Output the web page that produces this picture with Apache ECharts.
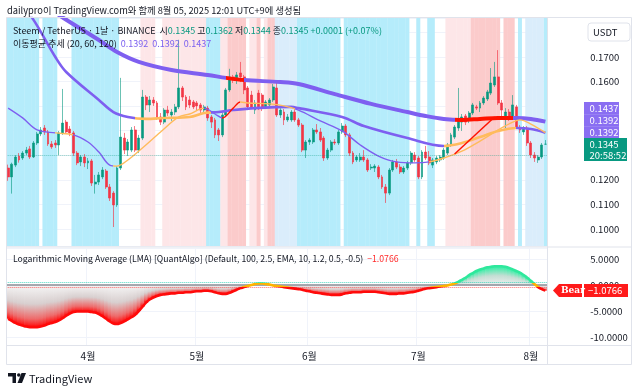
<!DOCTYPE html>
<html><head><meta charset="utf-8">
<script src="https://cdn.jsdelivr.net/npm/echarts@6/dist/echarts.min.js"></script>
<style>html,body{margin:0;padding:0;background:#fff}#c{width:640px;height:390px}</style>
</head><body><div id="c"></div>
<script>
// ---------------- DATA ----------------
const startDate = [2025, 2, 10]; // 2025-03-10, first daily candle
const opens = [0.1248,0.1212,0.1260,0.1297,0.1289,0.1309,0.1326,0.1293,0.1350,0.1387,
0.1411,0.1395,0.1346,0.1350,0.1342,0.1391,0.1435,0.1407,0.1391,0.1309,
0.1273,0.1293,0.1269,0.1277,0.1183,0.1191,0.1212,0.1236,0.1171,0.1146,
0.1098,0.1248,0.1370,0.1321,0.1321,0.1403,0.1321,0.1370,0.1537,0.1505,
0.1525,0.1513,0.1456,0.1435,0.1484,0.1464,0.1476,0.1497,0.1574,0.1537,
0.1525,0.1517,0.1513,0.1505,0.1484,0.1492,0.1456,0.1444,0.1403,0.1383,
0.1464,0.1566,0.1619,0.1606,0.1635,0.1619,0.1574,0.1545,0.1484,0.1553,
0.1545,0.1497,0.1505,0.1525,0.1574,0.1464,0.1476,0.1444,0.1444,0.1476,
0.1444,0.1423,0.1321,0.1354,0.1354,0.1403,0.1395,0.1370,0.1289,0.1321,
0.1354,0.1350,0.1395,0.1419,0.1383,0.1309,0.1281,0.1281,0.1293,0.1281,
0.1248,0.1248,0.1252,0.1212,0.1171,0.1146,0.1240,0.1273,0.1252,0.1232,
0.1248,0.1269,0.1301,0.1289,0.1212,0.1313,0.1293,0.1260,0.1273,0.1281,
0.1289,0.1309,0.1342,0.1374,0.1411,0.1435,0.1460,0.1444,0.1472,0.1497,
0.1492,0.1513,0.1529,0.1553,0.1586,0.1619,0.1513,0.1452,0.1476,0.1456,
0.1497,0.1415,0.1395,0.1411,0.1350,0.1301,0.1281,0.1293,0.1345];
const closes = [0.1212,0.1264,0.1293,0.1281,0.1309,0.1321,0.1293,0.1350,0.1387,0.1403,
0.1395,0.1346,0.1334,0.1342,0.1391,0.1431,0.1395,0.1391,0.1309,0.1269,
0.1293,0.1269,0.1277,0.1187,0.1191,0.1220,0.1240,0.1171,0.1126,0.1098,
0.1248,0.1374,0.1321,0.1354,0.1403,0.1321,0.1370,0.1537,0.1505,0.1525,
0.1513,0.1456,0.1435,0.1484,0.1472,0.1476,0.1497,0.1574,0.1537,0.1497,
0.1505,0.1497,0.1501,0.1484,0.1497,0.1452,0.1435,0.1383,0.1383,0.1464,
0.1566,0.1619,0.1606,0.1627,0.1619,0.1566,0.1497,0.1497,0.1513,0.1497,
0.1497,0.1517,0.1525,0.1578,0.1464,0.1484,0.1444,0.1456,0.1476,0.1444,
0.1423,0.1321,0.1354,0.1362,0.1403,0.1395,0.1362,0.1289,0.1321,0.1354,
0.1350,0.1395,0.1419,0.1383,0.1309,0.1273,0.1293,0.1293,0.1281,0.1240,
0.1252,0.1256,0.1212,0.1171,0.1146,0.1240,0.1273,0.1252,0.1232,0.1248,
0.1269,0.1309,0.1281,0.1212,0.1313,0.1289,0.1269,0.1281,0.1289,0.1293,
0.1321,0.1342,0.1383,0.1415,0.1444,0.1456,0.1435,0.1472,0.1505,0.1492,
0.1513,0.1533,0.1558,0.1594,0.1619,0.1513,0.1484,0.1476,0.1452,0.1505,
0.1415,0.1403,0.1411,0.1350,0.1301,0.1289,0.1293,0.1342,0.1345];
const highs = [0.1262,0.1270,0.1301,0.1309,0.1317,0.1334,0.1338,0.1358,0.1395,0.1415,
0.1423,0.1403,0.1358,0.1362,0.1399,0.1570,0.1444,0.1419,0.1399,0.1317,
0.1301,0.1305,0.1289,0.1285,0.1220,0.1232,0.1252,0.1244,0.1183,0.1154,
0.1256,0.1615,0.1391,0.1366,0.1415,0.1419,0.1383,0.1566,0.1545,0.1541,
0.1537,0.1521,0.1472,0.1492,0.1501,0.1488,0.1509,0.1770,0.1582,0.1545,
0.1541,0.1525,0.1521,0.1513,0.1505,0.1501,0.1464,0.1452,0.1411,0.1472,
0.1574,0.1652,0.1627,0.1639,0.1680,0.1627,0.1582,0.1562,0.1525,0.1566,
0.1553,0.1525,0.1533,0.1590,0.1606,0.1492,0.1488,0.1468,0.1484,0.1488,
0.1452,0.1431,0.1362,0.1370,0.1411,0.1427,0.1411,0.1378,0.1330,0.1362,
0.1366,0.1403,0.1431,0.1427,0.1391,0.1317,0.1301,0.1309,0.1321,0.1289,
0.1264,0.1264,0.1260,0.1220,0.1183,0.1248,0.1281,0.1285,0.1264,0.1256,
0.1277,0.1317,0.1313,0.1297,0.1321,0.1338,0.1317,0.1289,0.1297,0.1301,
0.1330,0.1350,0.1391,0.1423,0.1574,0.1468,0.1468,0.1480,0.1513,0.1505,
0.1521,0.1541,0.1566,0.1655,0.1680,0.1728,0.1525,0.1492,0.1488,0.1545,
0.1505,0.1423,0.1419,0.1419,0.1358,0.1313,0.1301,0.1350,0.1362];
const lows = [0.1196,0.1144,0.1252,0.1270,0.1281,0.1301,0.1285,0.1289,0.1342,0.1378,
0.1383,0.1338,0.1326,0.1330,0.1301,0.1383,0.1387,0.1378,0.1297,0.1260,
0.1256,0.1252,0.1244,0.1175,0.1144,0.1179,0.1203,0.1163,0.1114,0.1008,
0.1090,0.1240,0.1305,0.1297,0.1313,0.1313,0.1309,0.1362,0.1484,0.1476,
0.1501,0.1444,0.1423,0.1427,0.1460,0.1440,0.1464,0.1488,0.1521,0.1484,
0.1492,0.1488,0.1480,0.1472,0.1476,0.1440,0.1411,0.1370,0.1358,0.1374,
0.1456,0.1558,0.1594,0.1590,0.1598,0.1549,0.1484,0.1488,0.1468,0.1484,
0.1480,0.1488,0.1492,0.1517,0.1456,0.1452,0.1423,0.1436,0.1436,0.1436,
0.1415,0.1313,0.1289,0.1342,0.1346,0.1387,0.1354,0.1277,0.1281,0.1313,
0.1342,0.1342,0.1387,0.1374,0.1297,0.1264,0.1273,0.1273,0.1273,0.1232,
0.1240,0.1232,0.1203,0.1163,0.1106,0.1138,0.1232,0.1244,0.1224,0.1224,
0.1240,0.1260,0.1273,0.1203,0.1203,0.1281,0.1260,0.1248,0.1264,0.1273,
0.1281,0.1301,0.1334,0.1366,0.1399,0.1399,0.1423,0.1431,0.1464,0.1484,
0.1476,0.1505,0.1521,0.1545,0.1578,0.1505,0.1452,0.1411,0.1440,0.1448,
0.1407,0.1391,0.1383,0.1338,0.1289,0.1273,0.1269,0.1285,0.1344];

// Moving-average trend lines: [day index, price]
const ma120Points = [[0,0.2013],[14,0.1871],[25,0.1769],[30,0.1720],[36,0.1680],[45,0.1647],[55,0.1627],[60,0.1615],[65,0.1606],[75,0.1598],[80,0.1590],[90,0.1549],[100,0.1509],[110,0.1476],[115,0.1460],[120,0.1448],[125,0.1444],[130,0.1448],[135,0.1452],[140,0.1452],[144,0.1448],[148,0.1437]];
const ma60Points = [[0,0.1993],[7,0.1851],[13,0.1700],[16,0.1639],[25,0.1525],[29,0.1476],[33,0.1456],[38,0.1448],[43,0.1452],[50,0.1456],[54,0.1472],[58,0.1476],[62,0.1484],[68,0.1492],[78,0.1497],[80,0.1492],[92,0.1456],[98,0.1419],[110,0.1370],[120,0.1338],[125,0.1350],[130,0.1374],[135,0.1399],[140,0.1411],[144,0.1407],[148,0.1392]];
const ma20Points = [[0,0.1492],[4,0.1452],[8,0.1403],[13,0.1391],[18,0.1383],[22,0.1354],[25,0.1313],[28,0.1260],[30,0.1256],[33,0.1281],[37,0.1330],[42,0.1395],[47,0.1456],[50,0.1468],[54,0.1492],[57,0.1468],[59,0.1452],[62,0.1492],[64,0.1517],[66,0.1513],[72,0.1509],[76,0.1501],[80,0.1484],[86,0.1440],[92,0.1399],[97,0.1342],[102,0.1297],[107,0.1273],[112,0.1269],[116,0.1273],[120,0.1289],[125,0.1317],[130,0.1358],[135,0.1403],[139,0.1435],[141,0.1444],[144,0.1427],[148,0.1392]];
const crossPoints = [[123,0.1305],[134,0.1456]];
// trend-state segments (day ranges)
const ma120Red = [[60,65],[123,139]];
const ma60Orange = [[35,56],[120,140]];
const ma20Orange = [[13,18],[29,54],[64,79],[116,149]];
const ma20Red = [[59,64]];

// background regime bands: [state, number of days]
const bandRuns = [['C',9],['W',1],['C',4],['W',4],['C',13],['W',6],['L',4],['W',2],['L',12],['C',4],['L',2],['P',5],['W',1],['L',2],['P',1],['W',1],['L',1],['P',2],['B',6],['C',12],['W',1],['C',18],['W',2],['C',1],['W',2],['C',2],['W',3],['L',7],['P',8],['W',1],['P',3],['W',1],['C',1],['W',1],['B',5],['C',1]];

// Logarithmic Moving Average oscillator
const lmaValues = [-6.5,-6.9,-7.3,-7.6,-7.8,-8.0,-8.1,-8.1,-8.1,-8.0,
-7.8,-7.5,-7.3,-7.1,-6.8,-6.4,-5.9,-5.5,-5.2,-5.1,
-5.1,-5.1,-5.1,-5.2,-5.3,-5.6,-6.0,-6.5,-7.0,-7.4,
-7.5,-7.3,-7.0,-6.6,-6.2,-5.7,-5.0,-4.2,-3.4,-2.8,
-2.4,-2.1,-1.9,-1.8,-1.7,-1.6,-1.6,-1.5,-1.5,-1.4,
-1.4,-1.3,-1.2,-1.2,-1.1,-1.1,-1.2,-1.4,-1.6,-1.7,
-1.7,-1.5,-1.2,-0.9,-0.6,-0.4,-0.2,0.0,0.2,0.3,
0.3,0.2,0.1,-0.1,-0.2,-0.3,-0.4,-0.5,-0.6,-0.7,
-0.8,-0.9,-1.1,-1.2,-1.4,-1.5,-1.6,-1.7,-1.8,-1.9,
-1.9,-1.9,-1.8,-1.6,-1.5,-1.4,-1.4,-1.4,-1.3,-1.3,
-1.3,-1.3,-1.4,-1.5,-1.6,-1.7,-1.7,-1.7,-1.6,-1.6,
-1.5,-1.4,-1.3,-1.1,-0.9,-0.7,-0.6,-0.5,-0.4,-0.3,
-0.2,-0.1,0.1,0.3,0.6,1.0,1.4,1.9,2.3,2.7,
3.0,3.2,3.4,3.5,3.6,3.6,3.6,3.5,3.3,3.0,
2.7,2.4,1.9,1.4,0.8,0.2,-0.4,-0.8,-1.0766];

const monthTicks = ['2025-04-01','2025-05-01','2025-06-01','2025-07-01','2025-08-01'];
const monthNames = ['4월','5월','6월','7월','8월'];
const priceTickStep = 0.01;
const lmaTickStep = 5;

// ---------------- STYLE / LAYOUT ----------------
const FONT = '"Noto Sans CJK KR", "Noto Sans", sans-serif';
const UP = '#089981', DOWN = '#f23645';
const PURPLE = '#7e5ff0', ORANGE = '#ffbb5c', RED = '#ff1200';
const bandColors = {C:'#b5ecfb', L:'#fde6e8', P:'#fbcbcb', B:'#daedfb'};
const priceMin = 0.09308, priceMax = 0.18587;
const lmaMin = -11.54, lmaMax = 7.12;
const gridLeft = 6.3, gridWidth = 540.9;

const dates = [];
for (let i = 0; i < opens.length; i++) {
  const d = new Date(Date.UTC(startDate[0], startDate[1], startDate[2] + i));
  dates.push(d.toISOString().slice(0, 10));
}
const bandState = [];
bandRuns.forEach(([s, n]) => { for (let k = 0; k < n; k++) bandState.push(s); });

const candleData = opens.map((o, i) => [o, closes[i], lows[i], highs[i]]);

function pieces(segs) {
  const s = segs.slice().sort((a, b) => a[0] - b[0]);
  const out = [];
  let prev = -Infinity;
  s.forEach(([a, b, c]) => {
    if (a > prev) out.push(prev === -Infinity ? {lt: a, color: PURPLE} : {gte: prev, lt: a, color: PURPLE});
    out.push({gte: a, lt: b, color: c});
    prev = b;
  });
  out.push({gte: prev, color: PURPLE});
  return out;
}

const bandSeries = ['C', 'L', 'P', 'B'].map(k => ({
  type: 'bar', xAxisIndex: 0, yAxisIndex: 0, silent: true,
  barWidth: 3.95, barGap: '-100%', barCategoryGap: '0%',
  itemStyle: {color: bandColors[k]},
  data: bandState.map(s => s === k ? priceMax : '-'),
  z: 1
}));

// opaque (pre-blended on white) gradient stops so neighbouring columns don't seam
const negStops = [{offset:0,color:'#f6f6f6'},{offset:0.45,color:'#d8cfcf'},{offset:0.8,color:'#ee6b6b'},{offset:1,color:'#ff0a0a'}];
const posStops = [{offset:0,color:'#efefef'},{offset:0.5,color:'#c4ded4'},{offset:1,color:'#2af0a2'}];

const isMonth = (i, v) => monthTicks.indexOf(v) >= 0;
const isStep = (v, step) => Math.abs(v / step - Math.round(v / step)) < 1e-6;

const option = {
  animation: false,
  backgroundColor: '#ffffff',
  textStyle: {fontFamily: FONT},
  grid: [
    {left: gridLeft, top: 18, width: gridWidth, height: 228, outerBoundsMode: 'none'},
    {left: gridLeft, top: 248, width: gridWidth, height: 97, outerBoundsMode: 'none'}
  ],
  xAxis: [
    {type: 'category', gridIndex: 0, data: dates, boundaryGap: true,
     axisLine: {show: false}, axisTick: {show: false}, axisLabel: {show: false},
     splitLine: {show: true, interval: isMonth, lineStyle: {color: '#f0f3fa', width: 1}}},
    {type: 'category', gridIndex: 1, data: dates, boundaryGap: true,
     axisLine: {show: false}, axisTick: {show: false},
     axisLabel: {show: true, interval: isMonth, formatter: v => monthNames[monthTicks.indexOf(v)] || '',
                 fontSize: 10, color: '#131722', margin: 6, fontFamily: FONT},
     splitLine: {show: true, interval: isMonth, lineStyle: {color: '#f0f3fa', width: 1}}}
  ],
  yAxis: [
    {type: 'value', gridIndex: 0, position: 'right', min: priceMin, max: priceMax, splitNumber: 9,
     axisLine: {show: false}, axisTick: {show: false},
     axisLabel: {margin: 43, fontSize: 9.5, color: '#131722', fontFamily: FONT,
                 formatter: v => isStep(v, priceTickStep) ? v.toFixed(4) : ''},
     splitLine: {show: true, lineStyle: {color: '#f0f3fa'}}},
    {type: 'value', gridIndex: 1, position: 'right', min: lmaMin, max: lmaMax, splitNumber: 4,
     axisLine: {show: false}, axisTick: {show: false},
     axisLabel: {margin: 43, fontSize: 9.5, color: '#131722', fontFamily: FONT,
                 formatter: v => isStep(v, lmaTickStep) ? v.toFixed(4) : ''},
     splitLine: {show: true, lineStyle: {color: '#f0f3fa'}}}
  ],
  visualMap: [
    {type: 'piecewise', show: false, seriesIndex: 5, dimension: 0, pieces: pieces(ma120Red.map(s => [s[0], s[1], RED]))},
    {type: 'piecewise', show: false, seriesIndex: 6, dimension: 0, pieces: pieces(ma60Orange.map(s => [s[0], s[1], ORANGE]))},
    {type: 'piecewise', show: false, seriesIndex: 7, dimension: 0,
     pieces: pieces(ma20Orange.map(s => [s[0], s[1], ORANGE]).concat(ma20Red.map(s => [s[0], s[1], RED])))},
    {type: 'piecewise', show: false, seriesIndex: 10, dimension: 1,
     pieces: [{lt: -0.3, color: '#ff0a0a'}, {gte: -0.3, lte: 0.3, color: '#ffb300'}, {gt: 0.3, color: '#2ee89c'}]}
  ],
  series: [
    ...bandSeries,
    {type: 'candlestick', xAxisIndex: 0, yAxisIndex: 0, data: candleData, barWidth: 2.4, z: 3,
     itemStyle: {color: UP, color0: DOWN, borderColor: 'rgba(8,153,129,0.6)', borderColor0: 'rgba(242,54,69,0.65)', borderWidth: 1},
     markLine: {silent: true, symbol: 'none', label: {show: false},
       data: [{yAxis: closes[closes.length - 1]}],
       lineStyle: {color: 'rgba(8,153,129,0.45)', type: 'dotted', width: 1}}},
    {type: 'line', name: 'MA120', xAxisIndex: 0, yAxisIndex: 0, data: ma120Points, smooth: 0.35, showSymbol: false, z: 4,
     lineStyle: {width: 4}},
    {type: 'line', name: 'MA60', xAxisIndex: 0, yAxisIndex: 0, data: ma60Points, smooth: 0.35, showSymbol: false, z: 4,
     lineStyle: {width: 2.6}},
    {type: 'line', name: 'MA20', xAxisIndex: 0, yAxisIndex: 0, data: ma20Points, smooth: 0.35, showSymbol: false, z: 4,
     lineStyle: {width: 1.4}},
    {type: 'line', name: 'cross', xAxisIndex: 0, yAxisIndex: 0, data: crossPoints, showSymbol: false, z: 4,
     lineStyle: {width: 1.5, color: RED}, itemStyle: {color: RED}},
    {type: 'custom', xAxisIndex: 1, yAxisIndex: 1, z: 2,
     data: lmaValues.map((v, i) => [i, v]),
     renderItem: function (params, api) {
       const i = api.value(0), v = api.value(1);
       const base = api.coord([i, 0]);
       const top = api.coord([i, v]);
       const w = api.size([1, 0])[0];
       const neg = v < 0;
       return {type: 'rect',
         shape: {x: base[0] - w / 2 - 0.3, y: Math.min(base[1], top[1]), width: w + 0.6, height: Math.abs(top[1] - base[1])},
         style: {fill: new echarts.graphic.LinearGradient(0, neg ? 0 : 1, 0, neg ? 1 : 0, neg ? negStops : posStops)}};
     }},
    {type: 'line', xAxisIndex: 1, yAxisIndex: 1, data: lmaValues, smooth: 0.3, showSymbol: false, z: 5,
     lineStyle: {width: 2.6},
     markLine: {silent: true, symbol: 'none', label: {show: false},
       data: [
         {yAxis: 0, lineStyle: {color: '#8a8d96', width: 1.6, type: 'solid'}},
         {yAxis: 0.5, lineStyle: {color: 'rgba(0,200,170,0.7)', width: 1, type: 'dotted'}},
         {yAxis: -0.5, lineStyle: {color: 'rgba(255,60,60,0.75)', width: 1, type: 'dotted'}}
       ]}}
  ]
};

const chart = echarts.init(document.getElementById('c'), null, {renderer: 'canvas', width: 640, height: 390});
chart.setOption(option);

// ---------------- overlays (text, price-scale labels) ----------------
const yP = v => chart.convertToPixel({yAxisIndex: 0}, v);
const yL = v => chart.convertToPixel({yAxisIndex: 1}, v);
const LEG = 9;
const tok = (c, size) => ({fill: c, fontSize: size || LEG, fontFamily: FONT});
const g = [];
g.push({type: 'text', x: 7, y: 10, z: 100, style: {text: 'dailypro이 TradingView.com와 함께 8월 05, 2025 12:01 UTC+9에 생성됨', fill: '#131722', fontSize: 9.3, fontFamily: FONT, verticalAlign: 'middle'}});
g.push({type: 'text', x: 13, y: 31, z: 100, style: {
  text: '{d|Steem / TetherUS · 1날 · BINANCE  시}{g|0.1345}{d| 고}{g|0.1362}{d| 저}{g|0.1344}{d| 종}{g|0.1345}{g| +0.0001 (+0.07%)}',
  rich: {d: tok('#131722'), g: tok(UP)}, fontSize: LEG, fontFamily: FONT, verticalAlign: 'middle'}});
g.push({type: 'text', x: 13, y: 44, z: 100, style: {
  text: '{d|이동평균 추세 (20, 60, 120)}{p|  0.1392  0.1392  0.1437}',
  rich: {d: tok('#131722'), p: tok('#7b61f0')}, fontSize: LEG, fontFamily: FONT, verticalAlign: 'middle'}});
g.push({type: 'text', x: 13, y: 259, z: 100, style: {
  text: '{d|Logarithmic Moving Average (LMA) [QuantAlgo] (Default, 100, 2.5, EMA, 10, 1.2, 0.5, -0.5)}{r|  −1.0766}',
  rich: {d: tok('#131722', 8.7), r: tok('#ff2a2a', 8.7)}, fontSize: 8.7, fontFamily: FONT, verticalAlign: 'middle'}});

// frame lines
const LC = '#e0e3eb';
g.push({type: 'line', z: 90, shape: {x1: 547.5, y1: 18, x2: 547.5, y2: 364}, style: {stroke: LC, lineWidth: 1}});
g.push({type: 'line', z: 90, shape: {x1: 6, y1: 247, x2: 632, y2: 247}, style: {stroke: LC, lineWidth: 1}});
g.push({type: 'line', z: 90, shape: {x1: 6, y1: 345.5, x2: 632, y2: 345.5}, style: {stroke: LC, lineWidth: 1}});
g.push({type: 'rect', z: 90, shape: {x: 6.5, y: 17.5, width: 625, height: 347}, style: {stroke: LC, fill: null, lineWidth: 1}});

// USDT box
g.push({type: 'rect', z: 100, shape: {x: 588, y: 23, width: 42, height: 18, r: 3}, style: {fill: '#fff', stroke: LC, lineWidth: 1}});
g.push({type: 'text', z: 101, x: 593, y: 32, style: {text: 'USDT', fill: '#131722', fontSize: 9.5, fontFamily: FONT, verticalAlign: 'middle'}});

// stacked MA labels on the price scale
const maLast = [ma120Points[ma120Points.length - 1][1], ma60Points[ma60Points.length - 1][1], ma20Points[ma20Points.length - 1][1]];
const labelH = 12.3;
const lastClose = closes[closes.length - 1];
const yClose = yP(lastClose);
const yStack = yP(Math.min.apply(null, maLast));
const sortedMa = maLast.slice().sort((a, b) => a - b);
sortedMa.forEach((v, k) => {
  const cy = yStack - k * labelH;
  g.push({type: 'rect', z: 100, shape: {x: 584, y: cy - labelH / 2, width: 35, height: labelH + 0.3}, style: {fill: '#8a6ef2'}});
  g.push({type: 'text', z: 101, x: 589.5, y: cy, style: {text: v.toFixed(4), fill: '#fff', fontSize: 9.5, fontFamily: FONT, verticalAlign: 'middle'}});
});
// last price + countdown
g.push({type: 'rect', z: 100, shape: {x: 584, y: yClose - 6.2, width: 43, height: 23}, style: {fill: UP}});
g.push({type: 'text', z: 101, x: 589.5, y: yClose, style: {text: lastClose.toFixed(4), fill: '#fff', fontSize: 9.5, fontFamily: FONT, verticalAlign: 'middle'}});
g.push({type: 'text', z: 101, x: 589.5, y: yClose + 11, style: {text: '20:58:52', fill: '#fff', fontSize: 9.5, fontFamily: FONT, verticalAlign: 'middle'}});

// LMA last value + Bear tag
const lmaLast = lmaValues[lmaValues.length - 1];
const yB = yL(lmaLast);
g.push({type: 'polygon', z: 100, shape: {points: [[553, yB], [559, yB - 6.5], [582, yB - 6.5], [582, yB + 6.5], [559, yB + 6.5]]}, style: {fill: '#ff1a1a'}});
g.push({type: 'text', z: 101, x: 561, y: yB, style: {text: 'Bear', fill: '#fff', fontSize: 9, fontWeight: 'bold', fontFamily: '"DejaVu Serif", "Liberation Serif", serif', verticalAlign: 'middle'}});
g.push({type: 'rect', z: 100, shape: {x: 584, y: yB - 6.5, width: 44, height: 13}, style: {fill: '#ff1a1a'}});
g.push({type: 'text', z: 101, x: 588, y: yB, style: {text: '−' + Math.abs(lmaLast).toFixed(4), fill: '#fff', fontSize: 9.5, fontFamily: FONT, verticalAlign: 'middle'}});

// TradingView logo
g.push({type: 'polygon', z: 100, shape: {points: [[8, 373], [16, 373], [16, 383], [12.5, 383], [12.5, 376.5], [8, 376.5]]}, style: {fill: '#131722'}});
g.push({type: 'circle', z: 100, shape: {cx: 18.8, cy: 375, r: 1.8}, style: {fill: '#131722'}});
g.push({type: 'polygon', z: 100, shape: {points: [[21.5, 373], [26, 373], [22, 383], [17.5, 383]]}, style: {fill: '#131722'}});
g.push({type: 'text', z: 100, x: 29, y: 378.5, style: {text: 'TradingView', fill: '#131722', fontSize: 11, fontFamily: FONT, verticalAlign: 'middle'}});

chart.setOption({graphic: g});
</script>
</body></html>
